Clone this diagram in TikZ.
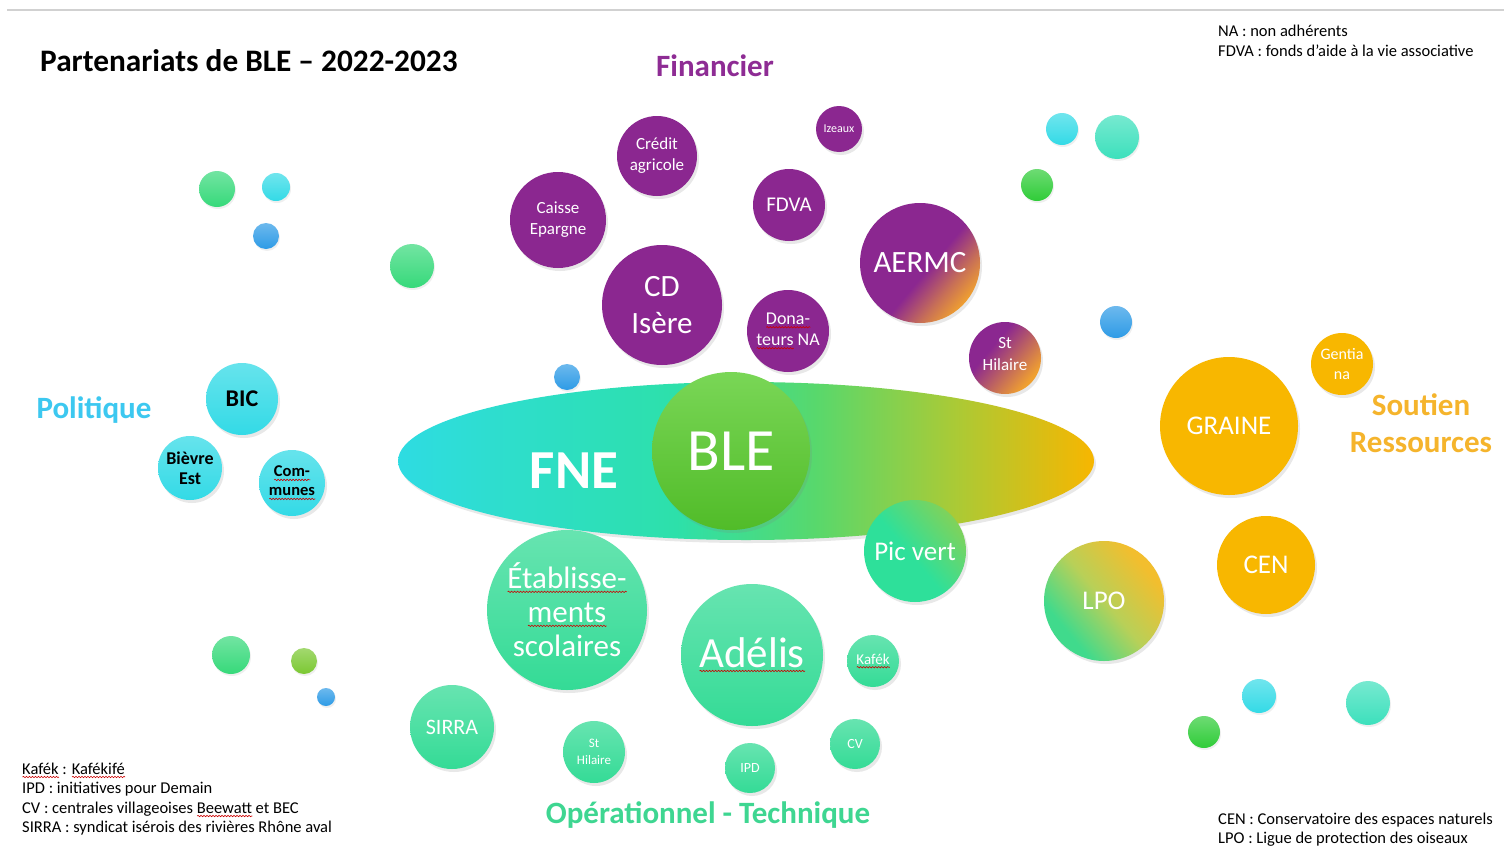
\documentclass[tikz,border=0pt]{standalone}
\usepackage{fontspec}
\setmainfont{Carlito}
\usetikzlibrary{shadows,shapes.geometric,decorations.pathmorphing}
\newlength\wavelen
\newcommand\redwave[1]{\settowidth\wavelen{#1}\rlap{\tikz[baseline=0pt,x=1pt,y=1pt]{\draw[red!80!black, line width=0.6pt, decorate, decoration={snake, amplitude=0.7pt, segment length=3pt}] (0pt,-3pt) -- (\wavelen,-3pt);}}#1}
\definecolor{cPurple}{HTML}{8B2790}
\definecolor{cOrange}{HTML}{F8B700}
\definecolor{cCyan}{HTML}{33DAE6}
\definecolor{cTeal}{HTML}{34DB96}
\definecolor{cGreen}{HTML}{58CC2C}
\definecolor{cBlue}{HTML}{2E9BE6}
\definecolor{cDotGreen}{HTML}{36D97A}
\definecolor{cDotTeal}{HTML}{3CE0BC}
\definecolor{cDotLime}{HTML}{7BC832}
\definecolor{cDotLeaf}{HTML}{2FCC38}
\definecolor{cPol}{HTML}{3CC8F0}
\definecolor{cFin}{HTML}{8E2C94}
\definecolor{cOp}{HTML}{3ED691}
\definecolor{cSou}{HTML}{F5B42C}
\definecolor{fA}{HTML}{2EDCE2}
\definecolor{fB}{HTML}{2DE0AA}
\definecolor{fC}{HTML}{58D86C}
\definecolor{fD}{HTML}{AACA36}
\definecolor{fE}{HTML}{F7B600}
\definecolor{sOr}{HTML}{F0A030}
\definecolor{pvA}{HTML}{2EE09A}
\definecolor{pvB}{HTML}{80D25A}
\definecolor{lpA}{HTML}{40DA8C}
\definecolor{lpB}{HTML}{B8D058}
\definecolor{lpC}{HTML}{F2BE2E}
% the path's bounding box covers 25bp..75bp of a shading
\pgfdeclarehorizontalshading{fneshade}{100bp}{color(0bp)=(fA); color(25bp)=(fA); color(45bp)=(fB); color(55bp)=(fC); color(65bp)=(fD); color(75bp)=(fE); color(100bp)=(fE)}
\pgfdeclarehorizontalshading{aermcshade}{100bp}{color(0bp)=(cPurple); color(54bp)=(cPurple); color(66bp)=(sOr!60!cPurple); color(75bp)=(sOr); color(100bp)=(sOr)}
\pgfdeclarehorizontalshading{sthshade}{100bp}{color(0bp)=(cPurple); color(38bp)=(cPurple); color(73bp)=(sOr); color(100bp)=(sOr)}
\pgfdeclarehorizontalshading{pvshade}{100bp}{color(0bp)=(pvA); color(47bp)=(pvA); color(75bp)=(pvB); color(100bp)=(pvB)}
\pgfdeclarehorizontalshading{lposhade}{100bp}{color(0bp)=(lpA); color(30bp)=(lpA); color(50bp)=(lpB); color(72bp)=(lpC); color(100bp)=(lpC)}
\tikzset{
  bub/.style={circle, inner sep=0pt, align=center, text=white,
    drop shadow={opacity=0.18, shadow xshift=2pt, shadow yshift=-3pt}},
  purplebub/.style={bub, fill=cPurple},
  cyanbub/.style={bub, top color=cCyan!75!white, bottom color=cCyan, text=black},
  tealbub/.style={bub, top color=cTeal!75!white, bottom color=cTeal},
  orangebub/.style={bub, fill=cOrange},
  dotnode/.style={circle, inner sep=0pt,
    drop shadow={opacity=0.12, shadow xshift=1pt, shadow yshift=-2pt}},
  dotcol/.style={top color=#1!70!white, bottom color=#1},
  cat/.style={font=\bfseries\fontsize{31}{37}\selectfont, align=center, inner sep=0pt},
  note/.style={font=\fontsize{16.5}{19.6}\selectfont, anchor=base west, inner sep=0pt},
  fs/.style 2 args={font=\fontsize{#1}{#2}\selectfont},
}
\begin{document}
\begin{tikzpicture}[x=1pt,y=-1pt]
\useasboundingbox (0,0) rectangle (1504,854);
\fill[white] (0,0) rectangle (1504,854);
\coordinate (lineL) at (7,10);
\coordinate (lineR) at (1504,10);
\draw[line width=1.5pt, black!18] (lineL) -- (lineR);

% title and categories
\node[font=\bfseries\fontsize{31.3}{37}\selectfont, anchor=base west, inner sep=0pt] (title) at (40,71) {Partenariats de BLE – 2022-2023};
\node[cat, text=cFin, anchor=base] (financier) at (715,76) {Financier};
\node[cat, text=cPol, anchor=base] (politique) at (94,418) {Politique};
\node[cat, text=cOp, anchor=base] (operationnel) at (708,823) {Opérationnel - Technique};
\node[cat, text=cSou] (soutien) at (1421,423) {Soutien\\Ressources};

% notes
\node[note] (na) at (1218,36.5) {NA : non adhérents};
\node[note] (fdvanote) at (1218,56) {FDVA : fonds d’aide à la vie associative};
\node[note] (kafnote) at (22,774) {\redwave{Kafék} : \redwave{Kafékifé}};
\node[note] (ipdnote) at (22,793.5) {IPD : initiatives pour Demain};
\node[note] (cvnote) at (22,813) {CV : centrales villageoises \redwave{Beewatt} et BEC};
\node[note] (sirranote) at (22,832.5) {SIRRA : syndicat isérois des rivières Rhône aval};
\node[note] (cennote) at (1218,824) {CEN : Conservatoire des espaces naturels};
\node[note] (lponote) at (1218,843.5) {LPO : Ligue de protection des oiseaux};

% decorative dots
\node[dotnode, dotcol=cDotGreen, minimum size=36pt] (d1) at (217,189) {};
\node[dotnode, dotcol=cCyan, minimum size=28pt] (d2) at (276,187) {};
\node[dotnode, dotcol=cBlue, minimum size=26pt] (d3) at (266,236) {};
\node[dotnode, dotcol=cDotGreen, minimum size=44pt] (d4) at (412,266) {};
\node[dotnode, dotcol=cBlue, minimum size=26pt] (d5) at (567,377) {};
\node[dotnode, dotcol=cCyan, minimum size=32pt] (d6) at (1062,129) {};
\node[dotnode, dotcol=cDotTeal, minimum size=44pt] (d7) at (1117,137) {};
\node[dotnode, dotcol=cDotLeaf, minimum size=32pt] (d8) at (1037,185) {};
\node[dotnode, dotcol=cBlue, minimum size=32pt] (d9) at (1116,322) {};
\node[dotnode, dotcol=cDotGreen, minimum size=38pt] (d10) at (231,655) {};
\node[dotnode, dotcol=cDotLime, minimum size=26pt] (d11) at (304,661) {};
\node[dotnode, dotcol=cBlue, minimum size=18pt] (d12) at (326,697) {};
\node[dotnode, dotcol=cCyan, minimum size=34pt] (d13) at (1259,696) {};
\node[dotnode, dotcol=cDotTeal, minimum size=44pt] (d14) at (1368,703) {};
\node[dotnode, dotcol=cDotLeaf, minimum size=32pt] (d15) at (1204,732) {};

% financier
\node[purplebub, minimum size=80pt, fs={17}{21}] (credit) at (657,156) {Crédit\\agricole};
\node[purplebub, minimum size=96pt, fs={17}{21}] (caisse) at (558,220) {Caisse\\Epargne};
\node[purplebub, minimum size=46pt, fs={12}{14}] (izeaux) at (839,129) {Izeaux};
\node[purplebub, minimum size=72pt, fs={21}{25}] (fdva) at (789,205) {FDVA};
\node[purplebub, minimum size=120pt, fs={31}{37}] (cdisere) at (662,305) {CD\\Isère};
\node[purplebub, minimum size=82pt, fs={18}{21}] (donateurs) at (788,331) {\redwave{Dona-}\\\redwave{teurs} NA};
\node[bub, shading=aermcshade, shading angle=-40, minimum size=120pt, fs={31}{37}] (aermc) at (920,263) {AERMC};
\node[bub, shading=sthshade, shading angle=-40, minimum size=72pt, fs={17}{22}] (sthilp) at (1005,358) {St\\Hilaire\\[-14pt]\mbox{}};

% politique
\node[cyanbub, minimum size=72pt, font=\bfseries\fontsize{24}{28}\selectfont] (bic) at (242,399) {BIC};
\node[cyanbub, minimum size=64pt, font=\bfseries\fontsize{18}{20}\selectfont] (bievre) at (190,468) {Bièvre\\Est};
\node[cyanbub, minimum size=66pt, font=\bfseries\fontsize{16.5}{19}\selectfont] (communes) at (292,483) {\redwave{Com-}\\\redwave{munes}};

% centre
\node[ellipse, inner sep=0pt, minimum width=696pt, minimum height=158pt, shading=fneshade,
  drop shadow={opacity=0.18, shadow xshift=2pt, shadow yshift=-3pt}] (fne) at (746,461) {};
\node[text=white, font=\bfseries\fontsize{55}{60}\selectfont, inner sep=0pt] (fnetext) at (574,471) {FNE};
\node[bub, top color=cGreen!80!white, bottom color=cGreen!92!black, minimum size=158pt, fs={60}{66}] (ble) at (731,451) {BLE};

% operationnel - technique
\node[bub, shading=pvshade, shading angle=40, minimum size=102pt, fs={27}{32}] (picvert) at (915,551) {Pic vert};
\node[tealbub, minimum size=160pt, fs={31}{34}] (etab) at (567,610) {\redwave{Établisse-}\\\redwave{ments}\\scolaires};
\node[tealbub, minimum size=142pt, fs={43}{50}] (adelis) at (752,655) {\redwave{Adélis}};
\node[tealbub, minimum size=52pt, fs={15}{18}] (kafek) at (873,661) {\redwave{Kafék}};
\node[tealbub, minimum size=84pt, fs={22}{26}] (sirra) at (452,727) {SIRRA};
\node[tealbub, minimum size=62pt, fs={13}{17}] (sthilg) at (594,752) {St\\Hilaire};
\node[tealbub, minimum size=50pt, fs={14}{17}] (ipd) at (750,768) {IPD};
\node[tealbub, minimum size=50pt, fs={14}{17}] (cv) at (855,744) {CV};

% soutien ressources
\node[orangebub, minimum size=62pt, fs={16}{20}] (gentiana) at (1342,364) {Gentia\\na};
\node[orangebub, minimum size=138pt, fs={27}{32}] (graine) at (1229,426) {GRAINE};
\node[orangebub, minimum size=98pt, fs={27}{32}] (cen) at (1266,565) {CEN};
\node[bub, shading=lposhade, shading angle=40, minimum size=120pt, fs={27}{32}] (lpo) at (1104,601) {LPO};
\end{tikzpicture}
\end{document}
